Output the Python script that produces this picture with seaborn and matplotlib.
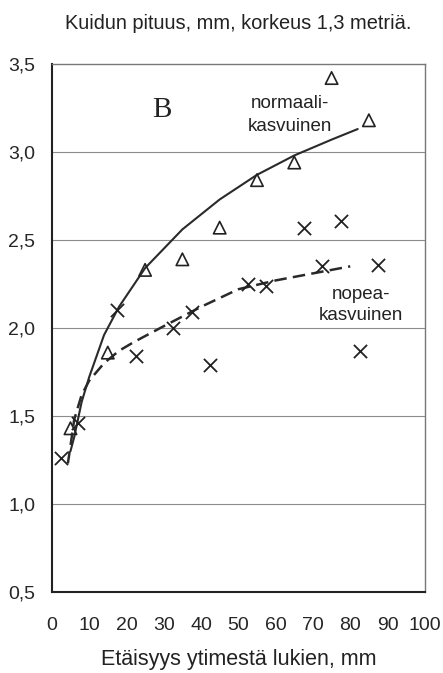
import pandas as pd
import matplotlib.pyplot as plt
import seaborn as sns

# measured points
normal_x = [5, 15, 25, 35, 45, 55, 65, 75, 85]
normal_y = [1.43, 1.86, 2.33, 2.39, 2.57, 2.84, 2.94, 3.42, 3.18]

fast_x = [2.5, 7, 17.5, 22.5, 32.5, 37.5, 42.5, 52.5, 57.5, 67.5, 72.5, 77.5, 82.5, 87.5]
fast_y = [1.26, 1.46, 2.10, 1.84, 2.00, 2.09, 1.79, 2.25, 2.24, 2.57, 2.35, 2.61, 1.87, 2.36]

# trend curves
normal_curve_x = [5, 6, 8, 10, 14, 18, 25, 35, 45, 55, 65, 75, 82]
normal_curve_y = [1.30, 1.38, 1.58, 1.72, 1.96, 2.12, 2.34, 2.56, 2.73, 2.87, 2.98, 3.07, 3.13]

fast_curve_x = [4.3, 5, 6, 8, 10, 14, 18, 22, 30, 40, 50, 60, 70, 80]
fast_curve_y = [1.23, 1.33, 1.48, 1.62, 1.70, 1.80, 1.87, 1.92, 2.01, 2.12, 2.22, 2.27, 2.31, 2.35]

x_ticks = [0, 10, 20, 30, 40, 50, 60, 70, 80, 90, 100]
y_ticks = [0.5, 1.0, 1.5, 2.0, 2.5, 3.0, 3.5]

sns.set_style("white")
plt.rcParams['font.family'] = ['Liberation Sans', 'DejaVu Sans']

fig = plt.figure(figsize=(4.43, 6.73), dpi=100)
ax = fig.add_axes([0.117, 0.1204, 0.842, 0.7846])

# horizontal grid lines
for v in y_ticks[1:-1]:
    ax.axhline(v, color="#8c8c8c", lw=0.8, zorder=0)

sns.lineplot(x=normal_curve_x, y=normal_curve_y, ax=ax, color="#2a2a2a", lw=1.5,
             sort=False, estimator=None)
sns.lineplot(x=fast_curve_x, y=fast_curve_y, ax=ax, color="#2a2a2a", lw=1.8,
             sort=False, estimator=None, dashes=False, linestyle=(0, (5, 2.5)))

sns.scatterplot(x=normal_x, y=normal_y, ax=ax, marker="^", s=80,
                facecolor="none", edgecolor="#222222", linewidth=1.2, zorder=3)
sns.scatterplot(x=fast_x, y=fast_y, ax=ax, marker="x", s=90,
                color="#222222", linewidth=1.3, zorder=3)

ax.set_xlim(0, 100)
ax.set_ylim(0.5, 3.5)
ax.set_xticks(x_ticks)
ax.set_yticks(y_ticks)
ax.set_xticklabels([str(t) for t in x_ticks], fontsize=14)
ax.set_yticklabels([f"{t:.1f}".replace(".", ",") for t in y_ticks], fontsize=14)
ax.tick_params(axis="both", direction="out", length=6, width=1.2, color="#222222")
ax.tick_params(axis="x", pad=12)
ax.tick_params(axis="y", pad=6)

for side in ["top", "right"]:
    ax.spines[side].set_linestyle((0, (1, 1)))
    ax.spines[side].set_color("#777777")
    ax.spines[side].set_linewidth(1.0)
for side in ["left", "bottom"]:
    ax.spines[side].set_color("#222222")
    ax.spines[side].set_linewidth(1.5)

ax.text(29.5, 3.24, "B", fontsize=21, family=["Liberation Serif", "DejaVu Serif"],
        ha="center", va="center", color="#222222")
ax.text(63.8, 3.21, "normaali-\nkasvuinen", fontsize=13.5, ha="center", va="center",
        linespacing=1.45, color="#222222")
ax.text(82.8, 2.13, "nopea-\nkasvuinen", fontsize=13.5, ha="center", va="center",
        linespacing=1.3, color="#222222")

ax.set_title("Kuidun pituus, mm, korkeus 1,3 metriä.", fontsize=14.4, pad=25, color="#222222")
ax.set_xlabel("Etäisyys ytimestä lukien, mm", fontsize=15.5, labelpad=11, color="#222222")
ax.set_ylabel("")

fig.savefig("out.png", dpi=100)
